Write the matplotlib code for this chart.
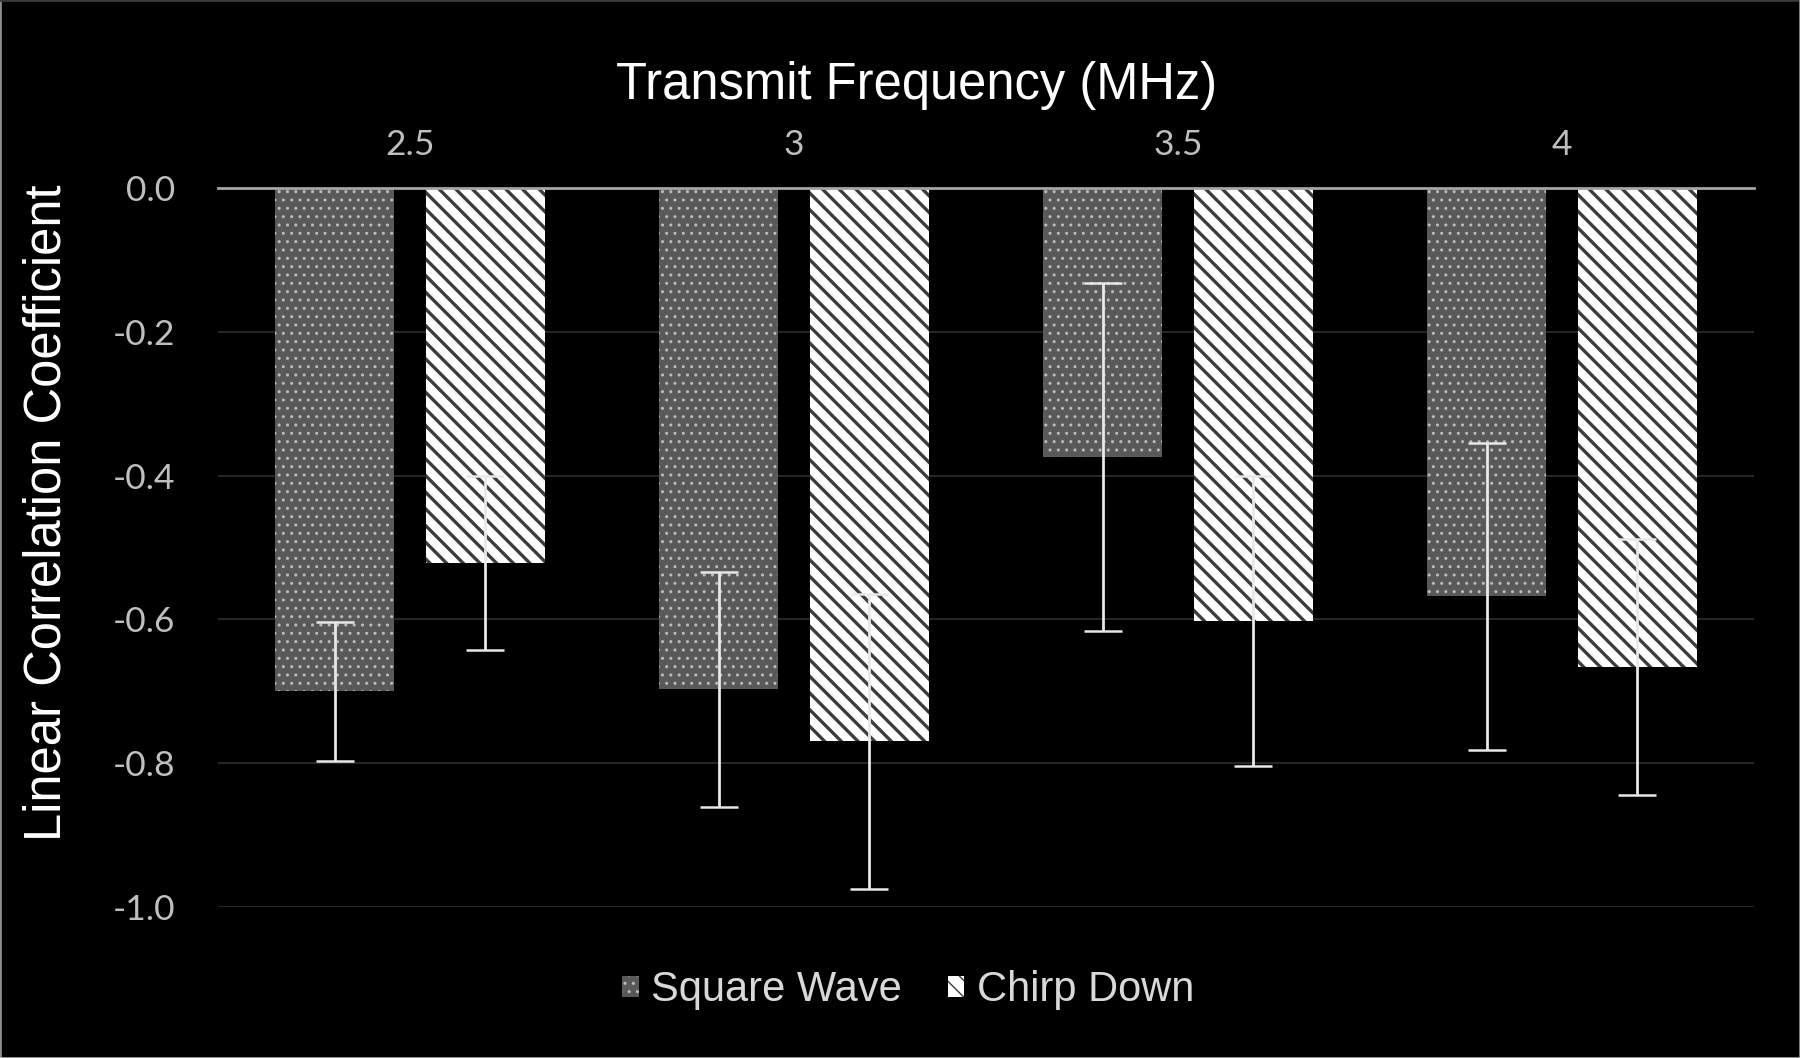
import matplotlib
matplotlib.use("Agg")
import matplotlib.pyplot as plt
from matplotlib.lines import Line2D
import numpy as np

# values
freqs = ["2.5", "3", "3.5", "4"]
square_wave = [-0.700, -0.697, -0.374, -0.568]
square_err = [0.097, 0.163, 0.242, 0.213]
chirp_down = [-0.522, -0.769, -0.602, -0.666]
chirp_err = [0.121, 0.205, 0.201, 0.178]
y_ticks = [0.0, -0.2, -0.4, -0.6, -0.8, -1.0]

W, H = 1800, 1058
fig = plt.figure(figsize=(W / 100, H / 100), dpi=100, facecolor="black")
ax = fig.add_axes([218 / W, 1 - 907.3 / H, 1536 / W, 719.6 / H])
ax.set_facecolor("black")

x = np.arange(len(freqs))
width = 0.31
off = 0.196

with plt.rc_context({"hatch.linewidth": 1.0}):
    b1 = ax.bar(x - off, square_wave, width, color="#595959", edgecolor="#bdbdbd",
                linewidth=0, hatch="..", label="Square Wave", zorder=2)
with plt.rc_context({"hatch.linewidth": 2.4}):
    b2 = ax.bar(x + off, chirp_down, width, color="white", edgecolor="#3c3c3c",
                linewidth=0, hatch="\\\\", label="Chirp Down", zorder=2)

err_kw = dict(fmt="none", ecolor="#e8e8e8", elinewidth=2.0, capsize=14, capthick=1.8, zorder=3)
ax.errorbar(x - off, square_wave, yerr=square_err, **err_kw)
ax.errorbar(x + off, chirp_down, yerr=chirp_err, **err_kw)

ax.set_xlim(-0.5, 3.5)
ax.set_ylim(-1.0, 0.0)
ax.set_yticks(y_ticks)
ax.set_yticklabels(["%.1f" % v for v in y_ticks])
ax.set_xticks(x)
ax.set_xticklabels(freqs)
ax.xaxis.tick_top()

for s in ax.spines.values():
    s.set_visible(False)
ax.yaxis.grid(True, color="#262626", linewidth=1.5, zorder=0)
ax.set_axisbelow(True)
ax.axhline(0, color="#a5a5a5", linewidth=2.0, zorder=4, clip_on=False)

ax.tick_params(axis="y", length=0, pad=31, labelsize=25.5, labelcolor="#bfbfbf")
ax.tick_params(axis="x", length=0, pad=19, labelsize=25.5, labelcolor="#bfbfbf")
for lab in ax.get_xticklabels() + ax.get_yticklabels():
    lab.set_family("Lato")

fig.text(916.7 / W, 1 - 99 / H, "Transmit Frequency (MHz)", ha="center", va="baseline",
         color="white", fontsize=36.5, family="Liberation Sans")
fig.text(47 / W, 1 - 512.6 / H, "Linear Correlation Coefficient", ha="center", va="center",
         rotation=90, color="white", fontsize=36.5, family="Liberation Sans")

leg = fig.legend(handles=[b1, b2], loc="center", bbox_to_anchor=(908 / W, 1 - 990 / H),
                 ncol=2, frameon=False, handlelength=0.4, handleheight=0.4,
                 handletextpad=0.3, columnspacing=1.1, prop={"family": "Liberation Sans", "size": 30})
for t in leg.get_texts():
    t.set_color("#d9d9d9")

# thin grey frame round the picture
fig.add_artist(Line2D([0, 0], [0, 1], transform=fig.transFigure, color="#8c8c8c", lw=2))
fig.add_artist(Line2D([0, 1], [1, 1], transform=fig.transFigure, color="#3a3a3a", lw=2))
fig.add_artist(Line2D([0, 1], [0, 0], transform=fig.transFigure, color="#a6a6a6", lw=2))
fig.add_artist(Line2D([1, 1], [0, 1], transform=fig.transFigure, color="#8c8c8c", lw=2))

fig.savefig("out.png", dpi=100, facecolor="black")
